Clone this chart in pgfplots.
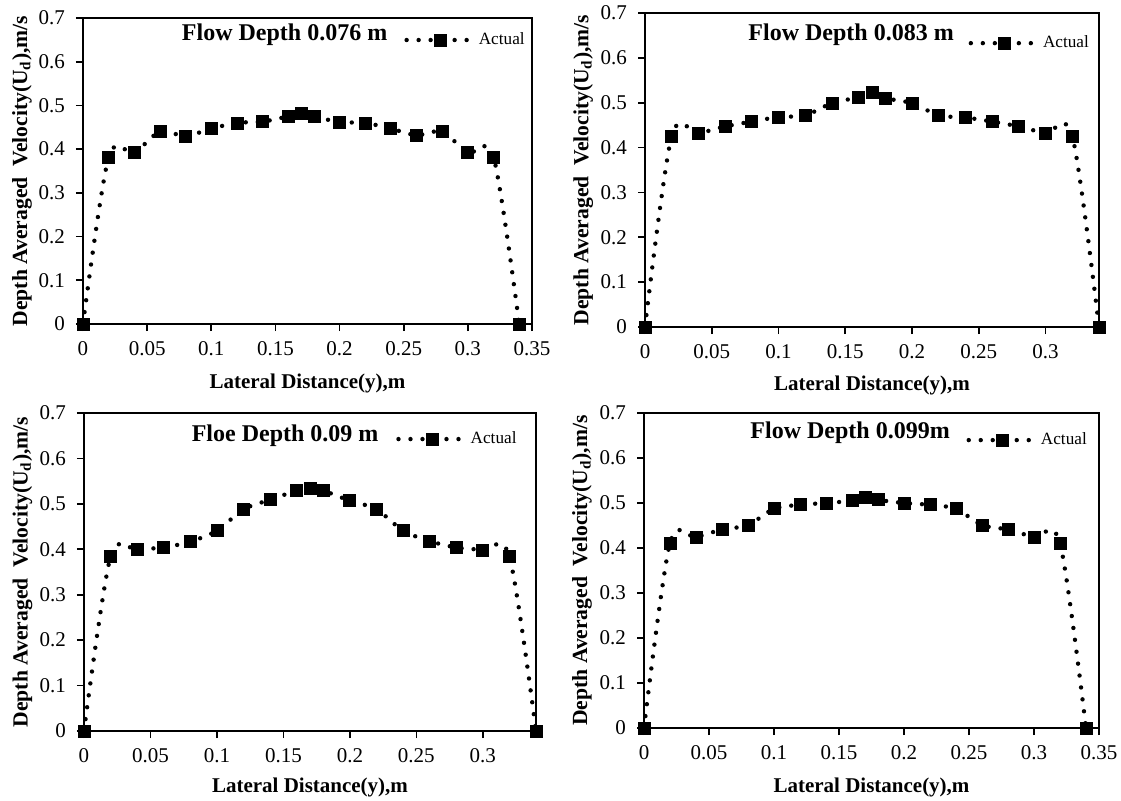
\documentclass[border=0pt]{standalone}
\usepackage{fontspec}
\setmainfont{Liberation Serif}
\usepackage{pgfplots}
\pgfplotsset{compat=1.18}
\tikzset{ttl/.style={font=\bfseries\fontsize{12}{14}\selectfont, anchor=center}}
\pgfplotsset{
  panel/.style={
    scale only axis,
    xmin=0, ymin=0, ymax=0.7,
    ytick={0,0.1,0.2,0.3,0.4,0.5,0.6,0.7},
    scaled x ticks=false, scaled y ticks=false,
    tick pos=left, tick align=outside, major tick length=3.5pt,
    axis line style={line width=0.8pt},
    tick style={line width=0.8pt, black},
    /pgf/number format/assume math mode=true,
    /pgf/number format/fixed,
    /pgf/number format/precision=2,
    tick label style={font=\fontsize{10.5}{12}\selectfont},
    xticklabel style={yshift=-1.5pt},
    yticklabel style={xshift=-2pt},
    xlabel={\bfseries Lateral Distance(y),m},
    ylabel={\bfseries Depth Averaged~ Velocity(U\textsubscript{d}),m/s},
    xlabel style={font=\fontsize{10.5}{12}\selectfont, at={(axis description cs:0.5,0)}, anchor=center, yshift=-29.5pt},
    ylabel style={font=\fontsize{10.8}{12}\selectfont, at={(axis description cs:-0.136,0.5)}, anchor=center},
    legend style={draw=none, fill=none, anchor=west, inner sep=0pt,
      font=\fontsize{8.6}{10}\selectfont, legend cell align=left},
    legend image code/.code={\draw[mark repeat=2,mark phase=2,#1] plot coordinates {(0pt,0pt) (17pt,0pt) (31pt,0pt)}; \path (33pt,0pt);},
  },
  dotcurve/.style={black, line width=2.2pt, dash pattern=on 0pt off 6pt, line cap=round,
    smooth, tension=0.5, mark=square*, mark size=3pt,
    mark options={solid, line width=0.4pt, fill=black}},
}
\begin{document}
\begin{tikzpicture}
\useasboundingbox (0,0) rectangle (560.5pt,400pt);
% Panel 1
\begin{axis}[panel, at={(41.5pt,238pt)}, anchor=south west, width=224.5pt, height=153pt,
  xmax=0.35, xtick={0,0.05,0.1,0.15,0.2,0.25,0.3,0.35},
  legend style={at={(rel axis cs:0.715,0.928)}}]
\addplot[dotcurve] coordinates {
(0,0) (0.02,0.382) (0.04,0.392) (0.06,0.440) (0.08,0.430) (0.10,0.447)
(0.12,0.460) (0.14,0.463) (0.16,0.475) (0.17,0.482) (0.18,0.475)
(0.20,0.462) (0.22,0.460) (0.24,0.447) (0.26,0.432) (0.28,0.440)
(0.30,0.392) (0.32,0.382) (0.34,0)};
\addlegendentry{Actual}
\node[ttl] at (rel axis cs:0.449,0.944) {Flow Depth 0.076 m};
\end{axis}
% Panel 2
\begin{axis}[panel, at={(322.5pt,236.5pt)}, anchor=south west, width=227pt, height=157pt,
  xmax=0.34, xtick={0,0.05,0.1,0.15,0.2,0.25,0.3},
  xlabel style={yshift=0.5pt},
  legend style={at={(rel axis cs:0.712,0.904)}}]
\addplot[dotcurve] coordinates {
(0,0) (0.02,0.426) (0.04,0.432) (0.06,0.447) (0.08,0.458) (0.10,0.468)
(0.12,0.472) (0.14,0.499) (0.16,0.512) (0.17,0.522) (0.18,0.510)
(0.20,0.499) (0.22,0.472) (0.24,0.467) (0.26,0.458) (0.28,0.447)
(0.30,0.432) (0.32,0.426) (0.34,0)};
\addlegendentry{Actual}
\node[ttl] at (rel axis cs:0.454,0.93) {Flow Depth 0.083 m};
\end{axis}
% Panel 3
\begin{axis}[panel, at={(42pt,34.5pt)}, anchor=south west, width=226pt, height=159pt,
  xmax=0.34, xtick={0,0.05,0.1,0.15,0.2,0.25,0.3},
  xlabel style={yshift=1.5pt},
  legend style={at={(rel axis cs:0.69,0.918)}}]
\addplot[dotcurve] coordinates {
(0,0) (0.02,0.384) (0.04,0.399) (0.06,0.404) (0.08,0.417) (0.10,0.441)
(0.12,0.488) (0.14,0.509) (0.16,0.529) (0.17,0.534) (0.18,0.529)
(0.20,0.507) (0.22,0.488) (0.24,0.441) (0.26,0.418) (0.28,0.404)
(0.30,0.398) (0.32,0.384) (0.34,0)};
\addlegendentry{Actual}
\node[ttl] at (rel axis cs:0.445,0.93) {Floe Depth 0.09 m};
\end{axis}
% Panel 4
\begin{axis}[panel, at={(322pt,36pt)}, anchor=south west, width=227.5pt, height=157.5pt,
  xmax=0.35, xtick={0,0.05,0.1,0.15,0.2,0.25,0.3,0.35},
  legend style={at={(rel axis cs:0.708,0.914)}}]
\addplot[dotcurve] coordinates {
(0,0) (0.02,0.411) (0.04,0.424) (0.06,0.441) (0.08,0.451) (0.10,0.487)
(0.12,0.496) (0.14,0.500) (0.16,0.505) (0.17,0.513) (0.18,0.507)
(0.20,0.500) (0.22,0.496) (0.24,0.487) (0.26,0.451) (0.28,0.441)
(0.30,0.424) (0.32,0.411) (0.34,0)};
\addlegendentry{Actual}
\node[ttl] at (rel axis cs:0.453,0.937) {Flow Depth 0.099m};
\end{axis}
\end{tikzpicture}
\end{document}
